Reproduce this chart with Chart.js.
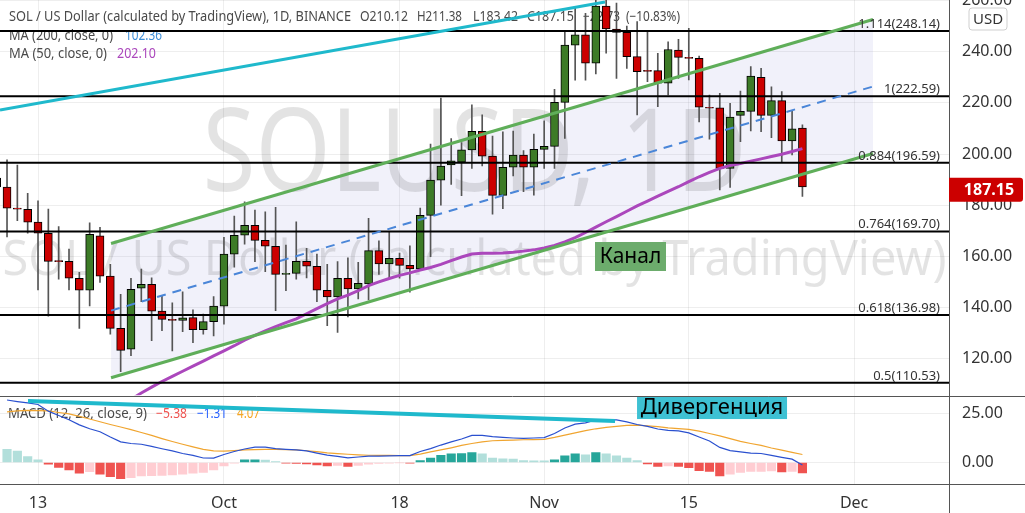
<!DOCTYPE html>
<html><head><meta charset="utf-8">
<script src="https://cdn.jsdelivr.net/npm/chart.js@4.4.1/dist/chart.umd.min.js"></script>
<style>html,body{margin:0;padding:0;background:#fff;overflow:hidden}canvas{display:block}</style>
</head><body><canvas id="c" width="1025" height="513"></canvas>
<script>
// ---------------- DATA ----------------
const dates = ['2021-09-09','2021-09-10','2021-09-11','2021-09-12','2021-09-13','2021-09-14','2021-09-15','2021-09-16','2021-09-17','2021-09-18','2021-09-19','2021-09-20','2021-09-21','2021-09-22','2021-09-23','2021-09-24','2021-09-25','2021-09-26','2021-09-27','2021-09-28','2021-09-29','2021-09-30',
'2021-10-01','2021-10-02','2021-10-03','2021-10-04','2021-10-05','2021-10-06','2021-10-07','2021-10-08','2021-10-09','2021-10-10','2021-10-11','2021-10-12','2021-10-13','2021-10-14','2021-10-15','2021-10-16','2021-10-17','2021-10-18','2021-10-19','2021-10-20','2021-10-21','2021-10-22','2021-10-23','2021-10-24','2021-10-25','2021-10-26','2021-10-27','2021-10-28','2021-10-29','2021-10-30','2021-10-31',
'2021-11-01','2021-11-02','2021-11-03','2021-11-04','2021-11-05','2021-11-06','2021-11-07','2021-11-08','2021-11-09','2021-11-10','2021-11-11','2021-11-12','2021-11-13','2021-11-14','2021-11-15','2021-11-16','2021-11-17','2021-11-18','2021-11-19','2021-11-20','2021-11-21','2021-11-22','2021-11-23','2021-11-24','2021-11-25','2021-11-26'];
const open = [190.6,187.1,178.8,178.4,173.4,169.0,158.3,158.0,151.4,146.7,168.0,152.2,131.8,123.6,147.5,149.0,138.5,135.3,134.9,136.0,131.3,134.4,
140.5,160.8,168.2,172.1,166.2,163.9,152.9,153.3,158.0,156.1,146.7,144.1,151.4,147.2,149.2,162.2,157.0,159.2,156.4,155.0,176.0,189.8,195.7,196.8,201.6,208.9,199.2,183.8,194.8,199.6,194.8,
201.8,203.0,220.2,242.6,246.6,235.5,257.9,248.9,247.6,238.1,232.7,232.6,227.7,240.7,237.8,237.4,218.3,218.1,194.4,215.1,216.7,230.0,215.1,220.9,205.1,210.12];
const high = [194.0,197.7,195.7,184.6,181.7,178.5,171.6,162.8,153.7,173.1,171.3,156.8,145.1,151.4,155.0,151.6,144.6,141.8,146.1,139.0,137.4,144.2,
167.4,175.7,181.3,178.1,177.4,179.1,164.4,173.5,163.1,160.8,156.8,157.9,159.4,157.6,174.8,166.0,169.6,161.2,164.1,178.8,203.9,221.9,206.0,204.5,219.2,215.3,207.0,208.7,209.0,201.3,207.8,
213.0,225.3,248.1,257.4,255.0,261.5,261.5,259.0,250.0,251.8,247.8,239.4,243.9,244.9,249.2,238.3,223.1,223.7,219.8,224.6,234.2,233.5,226.3,224.4,216.8,211.38];
const low = [183.0,167.6,173.9,169.0,146.8,136.6,151.0,146.8,131.8,140.6,149.8,129.5,114.8,121.1,142.2,127.0,130.9,123.0,130.5,126.2,129.5,128.8,
133.4,155.7,164.7,157.9,154.0,138.7,146.5,151.0,151.5,142.2,132.8,130.2,136.3,143.3,142.9,152.9,151.1,151.4,145.9,154.6,159.8,180.0,188.1,183.7,194.4,195.3,176.5,178.6,191.4,185.3,183.9,
194.4,194.4,206.1,228.9,228.9,231.3,239.4,229.6,233.5,215.3,228.3,218.5,223.1,229.6,229.0,212.6,205.8,185.9,186.9,204.8,209.0,208.7,206.4,197.0,199.6,183.42];
const close = [187.1,178.8,178.4,173.3,169.0,158.0,157.9,151.4,146.7,168.6,152.2,131.8,123.2,147.1,149.0,138.5,135.3,134.9,135.9,131.3,134.4,140.5,
160.8,168.2,172.1,166.2,163.9,152.9,153.3,158.0,156.1,146.7,144.1,151.4,147.2,149.4,162.2,157.0,159.2,156.4,155.0,176.0,189.8,195.3,197.3,201.6,208.9,199.2,183.8,194.8,199.6,194.8,201.8,
203.0,220.2,242.6,246.6,235.5,257.9,248.9,247.6,238.1,232.2,232.3,227.7,240.9,237.8,237.4,218.3,217.9,194.4,214.4,216.7,230.5,215.1,220.9,205.1,209.88,187.15];
const ma50 = [null,null,null,null,null,null,null,null,null,null,null,null,
101,104,106.5,108.8,111,113,115,117,119,121,123,125,127.2,129,130.8,132.5,134,135.5,137.5,139.5,141.5,143.3,144.8,146.5,148.5,150,151.3,152.5,153.5,154.6,155.6,156.8,158.3,159.7,160.9,161.2,161.2,161.3,161.6,162.0,162.5,163.2,164.2,165.6,167.3,169.3,171.4,173.5,175.5,177.6,179.7,181.6,183.5,185.4,187.2,189.2,191.1,192.8,194.4,195.5,196.3,197.2,198.1,199.0,199.9,201.0,202.1];
const ma200Last = 102.36;
const macd = [null,31.9,31.1,30.4,29.6,26.2,24.0,21.8,19.2,17.2,15.7,13.0,10.5,9.7,9.3,8.2,7.0,5.9,4.6,3.6,2.3,2.2,4.1,5.6,6.9,7.8,7.8,7.1,6.7,6.4,5.9,4.8,3.8,3.1,2.4,2.8,3.3,3.3,3.4,3.5,3.5,5.6,7.1,8.9,10.5,12.0,13.8,13.8,13.2,12.8,12.5,12.3,12.5,12.7,14.8,17.6,19.6,20.2,21.7,21.7,21.7,20.7,19.4,18.4,17.1,16.4,16.1,15.1,13.0,11.0,7.7,6.1,5.4,4.8,4.6,3.6,2.6,1.7,-1.31];
const signal = [null,25.8,26.3,26.6,26.5,26.3,25.5,24.8,23.5,22.2,20.8,19.4,18.1,16.8,15.3,13.8,12.2,10.7,9.3,8.0,6.7,5.9,5.8,6.1,6.4,6.6,6.7,6.7,6.6,6.4,6.0,5.5,4.9,4.5,4.2,3.9,3.7,3.6,3.6,3.5,3.5,4.3,5.4,6.4,7.5,8.7,9.7,10.5,11.1,11.3,11.4,11.6,11.7,11.8,12.8,14.0,15.1,16.3,17.2,17.9,18.4,18.9,19.1,18.7,18.3,17.7,17.3,16.9,16.0,14.8,13.6,12.2,10.8,9.7,8.7,7.4,6.3,5.2,4.07];
const hist = [null,6.7,5.8,3.0,1.3,-0.8,-2.5,-3.8,-5.5,-4.7,-6.0,-7.2,-8.3,-7.8,-6.9,-6.7,-6.6,-6.4,-5.9,-5.5,-5.1,-3.8,-1.8,-0.3,1.3,1.4,1.2,0.5,-0.3,-0.5,-0.7,-1.2,-1.7,-1.5,-2.0,-1.5,-0.8,-0.5,-0.3,-0.2,-0.4,1.0,2.2,3.7,4.4,4.5,5.1,4.4,2.2,1.9,1.8,1.0,0.85,0.8,1.4,3.4,4.4,3.9,5.1,4.4,3.4,2.2,1.0,-0.7,-2.0,-1.8,-2.0,-2.6,-4.2,-4.6,-6.8,-5.9,-5.1,-4.6,-4.5,-4.3,-4.8,-4.5,-5.38];
const tickDates = ['2021-09-13','2021-10-01','2021-10-18','2021-11-01','2021-11-15','2021-12-01'];
const tickLabels = ['13','Oct','18','Nov','15','Dec'];
const priceTicks = [120,140,160,180,200,220,240,260];
const macdTicks = [0,25];
const fibLevels = ['1.114','1','0.884','0.764','0.618','0.5'];
const fibPrices = [248.14,222.59,196.59,169.70,136.98,110.53];
// drawings (x in days from 2021-09-13)
const channelDays = [7.07, 80.83];
const channelUpper = [164.98, 252.62];
const channelMid = [138.73, 226.41];
const channelLower = [112.48, 200.2];
const trendDays = [-3.68, 54.89];
const trendPrices = [217.2, 259.5];
const macdTrendDays = [-0.97, 55.86];
const macdTrendValues = [31.4, 21.2];
const labelKanal = {text:'Канал', day:53.92, price:165.57};
const labelDiv = {text:'Дивергенция', day:57.99, value:33.9};

// ---------------- SETUP ----------------
const FONT = "'Noto Sans', sans-serif";
Chart.defaults.font.family = FONT;
const T0 = Date.UTC(2021,8,13);
const day = s => (Date.parse(s + 'T00:00:00Z') - T0) / 864e5;
const X_MIN = -3.68, X_MAX = 88.19;
const GRID = 'rgba(0,0,0,0.065)';
const GREEN = '#3d7b27', RED = '#cc0000';
const CH_GREEN = '#5fae59', CYAN = '#1fb9cc';
const pts = (xs, ys) => xs.map((x,i)=>({x, y: ys[i]}));
const series = arr => dates.map((d,i)=>({x: day(d), y: arr[i]})).filter(p=>p.y!==null);
const histColors = hist.map((v,i)=>{
  const p = i>0 ? hist[i-1] : null;
  if (v===null) return 'transparent';
  if (v>=0) return (p===null || v < p) ? '#b2dfdb' : '#26a69a';
  return (p===null || v < p) ? '#ef5350' : '#ffcdd2';
});

const lineDS = (data, color, width, order, yAxisID='y', extra={}) => Object.assign({
  type:'line', data, borderColor:color, borderWidth:width, pointRadius:0, tension:0, fill:false, order, yAxisID
}, extra);

const datasets = [
  lineDS(pts(channelDays, channelUpper), CH_GREEN, 3, 1, 'y', {fill:'+1', backgroundColor:'rgba(120,120,210,0.10)'}),
  lineDS(pts(channelDays, channelLower), CH_GREEN, 3, 1),
  lineDS(pts(channelDays, channelMid), '#4a86d8', 2, 1, 'y', {borderDash:[9,7]}),
  lineDS(pts(trendDays, trendPrices), CYAN, 3, 1),
  ...fibPrices.map(p => lineDS(pts([X_MIN, X_MAX],[p,p]), '#000', 2, 1)),
  lineDS(series(ma50), '#ab47bc', 3, 2),
  { type:'bar', data: dates.map((d,i)=>({x:day(d), y:[open[i], close[i]]})),
    backgroundColor: close.map((c,i)=> c>=open[i] ? GREEN : RED), borderColor:'#000', borderWidth:1,
    borderSkipped:false, barThickness:8, grouped:false, order:3, yAxisID:'y' },
  { type:'bar', data: dates.map((d,i)=>({x:day(d), y:[low[i], high[i]]})),
    backgroundColor:'#555', borderWidth:0, barThickness:1, grouped:false, order:4, yAxisID:'y' },
  { type:'bar', data: series(hist), backgroundColor: histColors.filter((c,i)=>hist[i]!==null),
    borderWidth:0, barThickness:8.5, grouped:false, order:7, yAxisID:'yM' },
  lineDS(series(signal), '#f0a530', 1.2, 6, 'yM'),
  lineDS(series(macd), '#2a50cf', 1.2, 5, 'yM'),
  lineDS(pts(macdTrendDays, macdTrendValues), CYAN, 4, 1, 'yM'),
];

function fitText(ctx, text, x, y, w, font, color){
  ctx.save(); ctx.font = font; ctx.fillStyle = color; ctx.textAlign='left'; ctx.textBaseline='alphabetic';
  const m = ctx.measureText(text).width; ctx.translate(x, y); ctx.scale(w/m, 1); ctx.fillText(text, 0, 0); ctx.restore();
}
const sgn = v => (v<0?'−':'') + Math.abs(v).toFixed(2);

const paneClip = {
  id:'paneClip',
  beforeDatasetDraw(chart, args){ const ys=args.meta.vScale, ca=chart.chartArea, c=chart.ctx;
    c.save(); c.beginPath(); c.rect(ca.left, ys.top, ca.right-ca.left, ys.bottom-ys.top); c.clip(); },
  afterDatasetDraw(chart){ chart.ctx.restore(); }
};

const decor = {
  id:'decor',
  beforeDatasetsDraw(chart){
    const c = chart.ctx, ca = chart.chartArea, y = chart.scales.y;
    const cx = (ca.left+ca.right)/2;
    c.save(); c.beginPath(); c.rect(ca.left, y.top, ca.right-ca.left, y.bottom-y.top); c.clip();
    fitText(c, 'SOLUSD, 1D', cx-272, 191, 544, `116px ${FONT}`, 'rgba(0,0,0,0.11)');
    fitText(c, 'SOL / US Dollar (calculated by TradingView)', cx-472, 275, 944, `49px ${FONT}`, 'rgba(0,0,0,0.11)');
    c.restore();
    // header legend
    const L = close.length-1, chg = close[L]-close[L-1], pct = chg/close[L-1]*100;
    const f = `14px ${FONT}`, col = '#4a4a4a';
    const segs = [['SOL / US Dollar (calculated by TradingView), 1D, BINANCE',9,342],
      ['O'+open[L].toFixed(2),360,48],['H'+high[L].toFixed(2),417,45],['L'+low[L].toFixed(2),473,45],
      ['C'+close[L].toFixed(2),527,47],[sgn(chg),583,37],['('+sgn(pct)+'%)',626,54]];
    segs.forEach(s=>fitText(c, s[0], s[1], 21, s[2], f, col));
    fitText(c, 'MA (200, close, 0)', 9, 40, 104, f, col);
    fitText(c, ma200Last.toFixed(2), 125, 40, 37, f, '#3d8ed8');
    fitText(c, 'MA (50, close, 0)', 9, 58, 98, f, col);
    fitText(c, ma50[L].toFixed(2), 117, 58, 39, f, '#ab47bc');
    const mt = chart.scales.yM.top;
    fitText(c, 'MACD (12, 26, close, 9)', 8, mt+22, 139, f, col);
    fitText(c, sgn(hist[L]), 156, mt+22, 31, f, '#ef5350');
    fitText(c, sgn(macd[L]), 197, mt+22, 30, f, '#2962ff');
    fitText(c, sgn(signal[L]), 237, mt+22, 23, f, '#f5a623');
  },
  afterDatasetsDraw(chart){
    const c = chart.ctx, ca = chart.chartArea, x = chart.scales.x, y = chart.scales.y, yM = chart.scales.yM;
    c.save();
    c.font = `13px ${FONT}`; c.fillStyle = '#333'; c.textAlign='right'; c.textBaseline='alphabetic';
    fibPrices.forEach((p,i)=>{ c.fillText(`${fibLevels[i]}(${p.toFixed(2)})`, ca.right-9, y.getPixelForValue(p)-3); });
    // Канал
    let bx = x.getPixelForValue(labelKanal.day), by = y.getPixelForValue(labelKanal.price);
    c.fillStyle = '#6cac6c'; c.fillRect(bx, by, 71, 29);
    c.fillStyle = '#000'; c.font = `21px ${FONT}`; c.textAlign='center'; c.textBaseline='middle';
    c.fillText(labelKanal.text, bx+35.5, by+15);
    // Дивергенция
    bx = x.getPixelForValue(labelDiv.day); by = yM.getPixelForValue(labelDiv.value);
    c.fillStyle = '#3ec1d3'; c.fillRect(bx, by, 150, 23);
    c.fillStyle = '#000'; c.font = `22px ${FONT}`;
    c.fillText(labelDiv.text, bx+75, by+12);
    c.restore();
  },
  afterDraw(chart){
    const c = chart.ctx, ca = chart.chartArea, y = chart.scales.y, yM = chart.scales.yM, W = chart.width;
    c.save();
    c.strokeStyle = '#555'; c.lineWidth = 1;
    c.beginPath();
    c.moveTo(0, Math.round(yM.top)+0.5); c.lineTo(W, Math.round(yM.top)+0.5);
    c.moveTo(0, Math.round(ca.bottom)+0.5); c.lineTo(W, Math.round(ca.bottom)+0.5);
    c.moveTo(Math.round(ca.right)+0.5, ca.bottom); c.lineTo(Math.round(ca.right)+0.5, chart.height);
    c.stroke();
    // price tag
    const L = close.length-1, py = y.getPixelForValue(close[L]) + 3;
    c.fillStyle = '#cc0000';
    c.beginPath(); c.roundRect(ca.right, py-12, 74, 24, [0,3,3,0]); c.fill();
    c.fillStyle = '#fff'; c.font = `bold 16px ${FONT}`; c.textAlign='center'; c.textBaseline='middle';
    c.fillText(close[L].toFixed(2), ca.right+40, py+1);
    // USD box
    c.strokeStyle = '#cfcfcf'; c.fillStyle = '#fff';
    c.beginPath(); c.roundRect(W-56, 8, 38, 22, 3); c.fill(); c.stroke();
    c.fillStyle = '#333'; c.font = `15px ${FONT}`;
    c.fillText('USD', W-37, 19.5);
    c.restore();
  }
};

const noPadV = s => { s.width = 76; s.paddingTop = 0; s.paddingBottom = 0; };
new Chart(document.getElementById('c'), {
  type:'bar',
  data:{ datasets },
  options:{
    responsive:false, animation:false, events:[],
    layout:{padding:0},
    plugins:{ legend:{display:false}, tooltip:{enabled:false}, filler:{drawTime:'beforeDatasetsDraw'} },
    scales:{
      x:{ type:'linear', min:X_MIN, max:X_MAX, offset:false,
        afterBuildTicks: s => { s.ticks = tickDates.map(d=>({value:day(d)})); },
        afterFit: s => { s.height = 29; s.paddingLeft = 0; s.paddingRight = 0; },
        ticks:{ autoSkip:false, maxRotation:0, padding:10, color:'#333', font:{size:16}, callback:(v,i)=>tickLabels[i] },
        grid:{ color:GRID, drawTicks:false, offset:false }, border:{ color:'#555' } },
      y:{ type:'linear', position:'right', stack:'pane', stackWeight:395.5, min:105.52, max:260.25,
        afterBuildTicks: s => { s.ticks = priceTicks.map(v=>({value:v})); },
        afterFit: noPadV,
        ticks:{ padding:13, color:'#333', font:{size:16}, callback:v=>v.toFixed(2) },
        grid:{ color:GRID, drawTicks:false }, border:{ color:'#555' } },
      yM:{ type:'linear', position:'right', stack:'pane', stackWeight:88.5, min:-10.97, max:34.18,
        afterBuildTicks: s => { s.ticks = macdTicks.map(v=>({value:v})); },
        afterFit: noPadV,
        ticks:{ padding:13, color:'#333', font:{size:16}, callback:v=>v.toFixed(2) },
        grid:{ color:GRID, drawTicks:false }, border:{ color:'#555' } }
    }
  },
  plugins:[paneClip, decor]
});
</script></body></html>
